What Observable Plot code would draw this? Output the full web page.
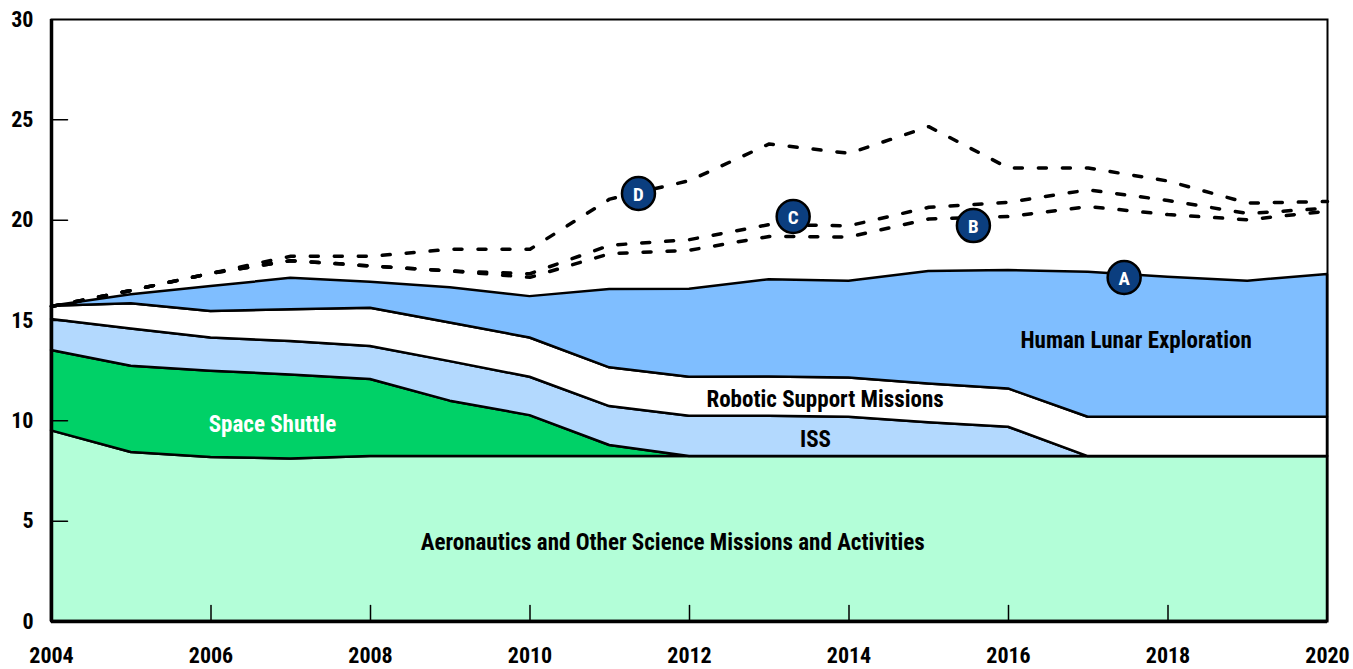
<!DOCTYPE html>
<html>
<head>
<meta charset="utf-8">
<script src="https://cdn.jsdelivr.net/npm/d3@7"></script>
<script src="https://cdn.jsdelivr.net/npm/@observablehq/plot@0.6"></script>
<style>
  html, body { margin: 0; padding: 0; background: #fff; }
  #chart svg { display: block; }
</style>
</head>
<body>
<div id="chart"></div>
<script>
// ---- Data (billions) ----
const years = [2004, 2005, 2006, 2007, 2008, 2009, 2010, 2011, 2012, 2013, 2014, 2015, 2016, 2017, 2018, 2019, 2020];

const seriesNames = [
  "Aeronautics and Other Science Missions and Activities",
  "Space Shuttle",
  "ISS",
  "Robotic Support Missions",
  "Human Lunar Exploration"
];
const aeronautics = [9.5, 8.42, 8.17, 8.1, 8.22, 8.22, 8.22, 8.22, 8.22, 8.22, 8.22, 8.22, 8.22, 8.22, 8.22, 8.22, 8.22];
const spaceShuttle = [4.0, 4.3, 4.3, 4.19, 3.84, 2.76, 2.04, 0.55, 0, 0, 0, 0, 0, 0, 0, 0, 0];
const iss = [1.55, 1.86, 1.66, 1.66, 1.64, 1.97, 1.91, 1.94, 2.01, 2.01, 1.96, 1.68, 1.46, 0, 0, 0, 0];
const robotic = [0.66, 1.25, 1.32, 1.58, 1.91, 1.93, 1.96, 1.93, 1.94, 1.95, 1.96, 1.93, 1.91, 1.96, 1.96, 1.96, 1.96];
const lunar = [0, 0.45, 1.24, 1.57, 1.29, 1.75, 2.06, 3.9, 4.39, 4.85, 4.82, 5.61, 5.9, 7.23, 6.98, 6.78, 7.11];
const seriesColors = ["#b3fed8", "#00d167", "#b3d9fe", "#ffffff", "#7fbeff"];

// Dashed scenario totals
const scenarioNames = ["B", "C", "D"];
const scenarioB = [15.7, 16.5, 17.35, 17.98, 17.72, 17.47, 17.15, 18.33, 18.5, 19.19, 19.16, 20.06, 20.18, 20.68, 20.28, 20.02, 20.45];
const scenarioC = [15.7, 16.5, 17.35, 17.98, 17.72, 17.47, 17.33, 18.75, 19.03, 19.78, 19.72, 20.64, 20.89, 21.51, 20.98, 20.33, 20.6];
const scenarioD = [15.7, 16.5, 17.35, 18.2, 18.2, 18.55, 18.55, 21.05, 21.97, 23.8, 23.33, 24.66, 22.6, 22.6, 21.95, 20.85, 20.93];

// Marker annotations
const markerLetters = ["A", "B", "C", "D"];
const markerYears = [2017.45, 2015.56, 2013.3, 2011.36];
const markerValues = [17.14, 19.73, 20.18, 21.33];

// Area labels
const labelTexts = ["Human Lunar Exploration", "Robotic Support Missions", "ISS", "Space Shuttle", "Aeronautics and Other Science Missions and Activities"];
const labelYears = [2017.6, 2013.7, 2013.58, 2006.77, 2011.79];
const labelValues = [14.0, 11.06, 9.07, 9.82, 3.94];
const labelColors = ["black", "black", "black", "white", "black"];

// Axis ticks
const xTickLabels = [2004, 2006, 2008, 2010, 2012, 2014, 2016, 2018, 2020];
const xTickMarks = [2006, 2008, 2010, 2012, 2014, 2016, 2018];
const yTickLabels = [0, 5, 10, 15, 20, 25, 30];
const yTickMarks = [5, 10, 15, 20, 25];

// ---- Build tables ----
const seriesValues = [aeronautics, spaceShuttle, iss, robotic, lunar];
const areaData = [];
seriesNames.forEach((name, i) => {
  years.forEach((yr, j) => areaData.push({year: yr, series: name, value: seriesValues[i][j]}));
});
const scenarioValues = [scenarioB, scenarioC, scenarioD];
const lineData = [];
scenarioNames.forEach((name, i) => {
  years.forEach((yr, j) => lineData.push({year: yr, scenario: name, value: scenarioValues[i][j]}));
});
const markers = markerLetters.map((t, i) => ({text: t, year: markerYears[i], value: markerValues[i]}));
const labels = labelTexts.map((t, i) => ({text: t, year: labelYears[i], value: labelValues[i], color: labelColors[i]}));

const tickShape = {draw(context, l) { context.moveTo(0, 0); context.lineTo(0, -l); }};
const FONT = "'Roboto Condensed', 'Liberation Sans', sans-serif";

const chart = Plot.plot({
  width: 1353,
  height: 669,
  marginLeft: 51,
  marginRight: 26,
  marginTop: 19,
  marginBottom: 48,
  style: {fontFamily: FONT, fontWeight: "bold", background: "white", color: "black"},
  x: {domain: [2004, 2020], label: null},
  y: {domain: [0, 30], label: null},
  color: {domain: seriesNames, range: seriesColors},
  marks: [
    Plot.areaY(areaData, {x: "year", y: "value", z: "series", fill: "series", stroke: "black", strokeWidth: 2.5, strokeLinejoin: "round"}),
    Plot.line(lineData, {x: "year", y: "value", z: "scenario", stroke: "black", strokeWidth: 3.5, strokeDasharray: "8,16"}),
    Plot.vector(yTickMarks, {y: d => d, frameAnchor: "left", length: 16, rotate: 90, anchor: "start", shape: tickShape, stroke: "black", strokeWidth: 1.5}),
    Plot.vector(xTickMarks, {x: d => d, frameAnchor: "bottom", length: 16, rotate: 0, anchor: "start", shape: tickShape, stroke: "black", strokeWidth: 1.5}),
    Plot.frame({stroke: "black", strokeWidth: 2}),
    Plot.ruleX([2004], {stroke: "black", strokeWidth: 3.5}),
    Plot.ruleY([0], {stroke: "black", strokeWidth: 3.5}),
    Plot.axisY({ticks: yTickLabels, tickSize: 0, tickPadding: 18, fontSize: 22, tickFormat: d => String(d)}),
    Plot.axisX({ticks: xTickLabels, tickSize: 0, tickPadding: 26, fontSize: 22, tickFormat: d => String(d)}),
    Plot.text(labels, {x: "year", y: "value", text: "text", fill: d => d.color, fontSize: 23, fontWeight: "bold"}),
    Plot.dot(markers, {x: "year", y: "value", r: 16.5, fill: "#0b3e7f", stroke: "black", strokeWidth: 2.5}),
    Plot.text(markers, {x: "year", y: "value", text: "text", fill: "white", fontSize: 19, fontWeight: "bold", dy: 1})
  ]
});
document.getElementById("chart").appendChild(chart);
</script>
</body>
</html>
